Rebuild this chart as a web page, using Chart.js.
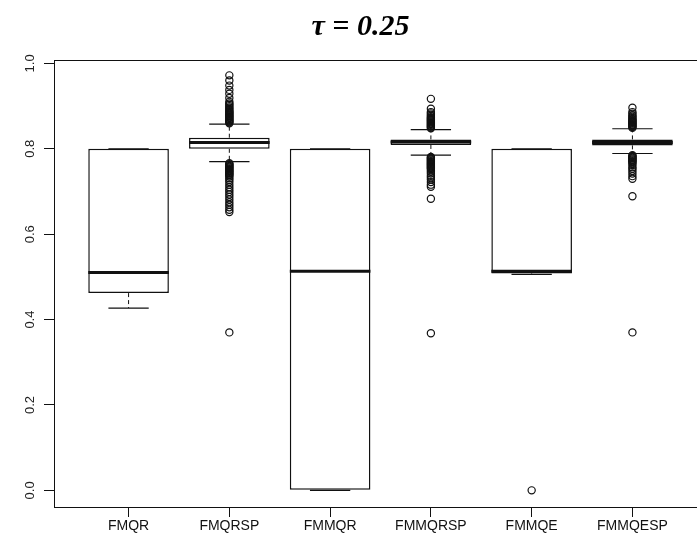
<!DOCTYPE html>
<html>
<head>
<meta charset="utf-8">
<title>Boxplot tau = 0.25</title>
<script src="https://cdn.jsdelivr.net/npm/chart.js@4.4.1/dist/chart.umd.min.js"></script>
<style>
  html, body { margin: 0; padding: 0; background: #ffffff; overflow: hidden; }
  #wrap { width: 720px; height: 539px; }
</style>
</head>
<body>
<div id="wrap"><canvas id="chart" width="720" height="539"></canvas></div>
<script>
// Methods compared
const categories = ['FMQR', 'FMQRSP', 'FMMQR', 'FMMQRSP', 'FMMQE', 'FMMQESP'];

// Five-number summaries per method
const q1          = [0.462, 0.800, 0.000, 0.809, 0.508, 0.808];
const medians     = [0.510, 0.815, 0.513, 0.816, 0.513, 0.815];
const q3          = [0.800, 0.826, 0.800, 0.822, 0.800, 0.822];
const whiskerLow  = [0.427, 0.770, 0.000, 0.785, 0.506, 0.789];
const whiskerHigh = [0.800, 0.858, 0.800, 0.845, 0.800, 0.847];

// Outlying observations per method
const outliersFMQR = [];
const outliersFMQRSP = [
  0.972, 0.960, 0.948, 0.938, 0.929, 0.919, 0.910, 0.906, 0.903, 0.900,
  0.897, 0.894, 0.891, 0.888, 0.886, 0.884, 0.882, 0.880, 0.878, 0.876,
  0.874, 0.872, 0.870, 0.868, 0.866, 0.864, 0.862, 0.860,
  0.766, 0.764, 0.762, 0.760, 0.758, 0.756, 0.754, 0.752, 0.750, 0.748,
  0.746, 0.744, 0.742, 0.740, 0.738, 0.735, 0.731, 0.727, 0.722, 0.716,
  0.710, 0.704, 0.699, 0.693, 0.687, 0.681, 0.675, 0.669, 0.663, 0.657,
  0.652, 0.370
];
const outliersFMMQR = [];
const outliersFMMQRSP = [
  0.917, 0.894, 0.886, 0.883, 0.880, 0.877, 0.874, 0.872, 0.870, 0.868,
  0.866, 0.864, 0.862, 0.860, 0.858, 0.856, 0.854, 0.852, 0.850, 0.848,
  0.781, 0.779, 0.777, 0.775, 0.773, 0.771, 0.769, 0.767, 0.765, 0.763,
  0.761, 0.759, 0.757, 0.755, 0.753, 0.750, 0.746, 0.742, 0.737, 0.733,
  0.728, 0.722, 0.716, 0.711, 0.683, 0.368
];
const outliersFMMQE = [0.000];
const outliersFMMQESP = [
  0.896, 0.886, 0.882, 0.878, 0.875, 0.872, 0.869, 0.867, 0.865, 0.863,
  0.861, 0.859, 0.857, 0.855, 0.853, 0.851, 0.849,
  0.785, 0.783, 0.781, 0.779, 0.777, 0.775, 0.773, 0.771, 0.769, 0.766,
  0.762, 0.757, 0.753, 0.748, 0.742, 0.736, 0.730, 0.689, 0.370
];
const outliers = [outliersFMQR, outliersFMQRSP, outliersFMMQR,
                  outliersFMMQRSP, outliersFMMQE, outliersFMMQESP];

// Axis ticks
const yTickValues = [0.0, 0.2, 0.4, 0.6, 0.8, 1.0];
const yTickLabels = ['0.0', '0.2', '0.4', '0.6', '0.8', '1.0'];
const xTickValues = [1, 2, 3, 4, 5, 6];

const boxData = categories.map((c, i) => ({ x: i + 1, y: [q1[i], q3[i]] }));
const outlierData = [];
outliers.forEach((list, i) => list.forEach(v => outlierData.push({ x: i + 1, y: v })));

const ink = '#111111';

// Medians, dashed whiskers, staples, plot frame and rotated y labels
const boxExtras = {
  id: 'boxExtras',
  afterDatasetsDraw(chart) {
    const { ctx, scales: { x, y } } = chart;
    const bars = chart.getDatasetMeta(0).data;
    ctx.save();
    ctx.strokeStyle = ink;
    bars.forEach((bar, i) => {
      const cx = bar.x;
      const half = bar.width / 2;
      const cap = bar.width / 4;
      // whiskers
      ctx.lineWidth = 1;
      ctx.setLineDash([4, 3]);
      ctx.beginPath();
      ctx.moveTo(cx, y.getPixelForValue(q1[i]));
      ctx.lineTo(cx, y.getPixelForValue(whiskerLow[i]));
      ctx.moveTo(cx, y.getPixelForValue(q3[i]));
      ctx.lineTo(cx, y.getPixelForValue(whiskerHigh[i]));
      ctx.stroke();
      ctx.setLineDash([]);
      // staples
      ctx.lineWidth = 1.2;
      ctx.beginPath();
      [whiskerLow[i], whiskerHigh[i]].forEach(v => {
        const py = y.getPixelForValue(v);
        ctx.moveTo(cx - cap, py);
        ctx.lineTo(cx + cap, py);
      });
      ctx.stroke();
      // median
      ctx.lineWidth = 3;
      ctx.beginPath();
      const my = y.getPixelForValue(medians[i]);
      ctx.moveTo(cx - half, my);
      ctx.lineTo(cx + half, my);
      ctx.stroke();
    });
    ctx.restore();
  },
  afterDraw(chart) {
    const { ctx, scales: { y }, chartArea } = chart;
    ctx.save();
    ctx.strokeStyle = ink;
    ctx.lineWidth = 1;
    ctx.strokeRect(Math.round(chartArea.left) + 0.5, Math.round(chartArea.top) + 0.5,
                   chartArea.right - chartArea.left, chartArea.bottom - chartArea.top);
    ctx.fillStyle = '#222222';
    ctx.font = '13px "Liberation Sans", Arial, sans-serif';
    ctx.textAlign = 'center';
    ctx.textBaseline = 'middle';
    yTickValues.forEach((v, i) => {
      const py = y.getPixelForValue(v);
      ctx.save();
      ctx.translate(30, py);
      ctx.rotate(-Math.PI / 2);
      ctx.fillText(yTickLabels[i], 0, 0);
      ctx.restore();
    });
    ctx.restore();
  }
};

new Chart(document.getElementById('chart'), {
  type: 'bar',
  data: {
    datasets: [
      {
        label: 'box',
        data: boxData,
        backgroundColor: '#ffffff',
        borderColor: ink,
        borderWidth: 1.5,
        borderSkipped: false,
        barPercentage: 0.8,
        categoryPercentage: 1.0
      },
      {
        type: 'scatter',
        label: 'outliers',
        data: outlierData,
        pointStyle: 'circle',
        pointRadius: 3.6,
        pointBorderWidth: 1.2,
        pointBorderColor: ink,
        pointBackgroundColor: 'rgba(0,0,0,0)',
        showLine: false
      }
    ]
  },
  options: {
    responsive: false,
    animation: false,
    devicePixelRatio: 1,
    layout: { padding: { left: 14, right: 13, top: 0, bottom: 0 } },
    plugins: {
      legend: { display: false },
      tooltip: { enabled: false },
      title: {
        display: true,
        text: 'τ = 0.25',
        color: '#000000',
        font: { family: '"Liberation Serif", "Times New Roman", serif', size: 30, style: 'italic', weight: 'bold', lineHeight: 1.2 },
        padding: { top: 9, bottom: 15 }
      }
    },
    scales: {
      x: {
        type: 'linear',
        offset: false,
        min: 0.26,
        max: 6.74,
        afterBuildTicks(scale) { scale.ticks = xTickValues.map(v => ({ value: v })); },
        afterFit(scale) { scale.height = 32; },
        ticks: {
          callback: (v) => categories[v - 1],
          color: '#111111',
          padding: 1,
          maxRotation: 0,
          autoSkip: false,
          font: { family: '"Liberation Sans", Arial, sans-serif', size: 14 }
        },
        grid: { display: true, offset: false, drawOnChartArea: false, drawTicks: true, tickLength: 10, color: ink, lineWidth: 1 },
        border: { display: false }
      },
      y: {
        type: 'linear',
        min: -0.039,
        max: 1.008,
        afterBuildTicks(scale) { scale.ticks = yTickValues.map(v => ({ value: v })); },
        afterFit(scale) { scale.width = 40; },
        ticks: { display: false },
        grid: { display: true, offset: false, drawOnChartArea: false, drawTicks: true, tickLength: 10, color: ink, lineWidth: 1 },
        border: { display: false }
      }
    }
  },
  plugins: [boxExtras]
});
</script>
</body>
</html>
